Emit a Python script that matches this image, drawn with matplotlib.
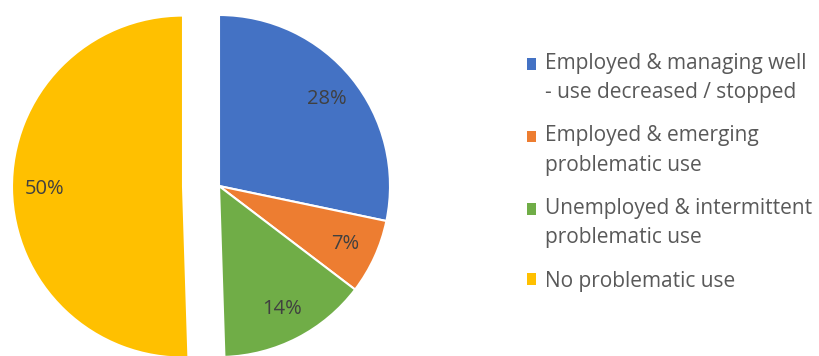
import matplotlib
matplotlib.use('Agg')
import matplotlib.pyplot as plt
from matplotlib.patches import Patch, Rectangle
from matplotlib.legend_handler import HandlerPatch

plt.rcParams['font.family'] = ['Open Sans', 'DejaVu Sans']

categories = [
    "Employed & managing well\n- use decreased / stopped",
    "Employed & emerging\nproblematic use",
    "Unemployed & intermittent\nproblematic use",
    "No problematic use",
]
shares = [28, 7, 14, 50]
# the last slice is pulled out by 36 px
explode = [0, 0, 0, 36]
colors = ['#4472C4', '#ED7D31', '#70AD47', '#FFC000']

fig = plt.figure(figsize=(8.2, 3.56), dpi=100)
ax = fig.add_axes([0, 0, 1, 1])

wedges, texts, autotexts = ax.pie(
    shares, colors=colors, explode=explode, startangle=90, counterclock=False,
    center=(219, 170), radius=171, pctdistance=0.81,
    autopct=lambda p: f"{p * sum(shares) / 100:.0f}%",
    wedgeprops=dict(edgecolor='white', linewidth=1.5),
    textprops=dict(color='#404040', fontsize=14.5),
)
ax.set_xlim(0, 820)
ax.set_ylim(0, 356)
ax.set_aspect('equal')
ax.axis('off')


def top_line_square(shift):
    # keep the square beside the first line of a wrapped label
    def make(legend, orig_handle, xdescent, ydescent, width, height, fontsize):
        return Rectangle((-xdescent, -ydescent + shift), width, height)
    return HandlerPatch(patch_func=make)


handles = [Patch(facecolor=c, edgecolor='none') for c in colors]
handler_map = {h: top_line_square(10.5 if '\n' in lab else 0)
               for h, lab in zip(handles, categories)}
leg = fig.legend(handles, categories, loc='upper left', handler_map=handler_map,
                 bbox_to_anchor=(527 / 820, 1 - 53 / 356),
                 frameon=False, fontsize=15, handlelength=0.45, handleheight=0.45,
                 handletextpad=0.4, labelspacing=1.08, borderpad=0, borderaxespad=0)
for t in leg.get_texts():
    t.set_color('#595959')
    t.set_linespacing(1.5)

plt.savefig('out.png', dpi=100)
plt.close()
